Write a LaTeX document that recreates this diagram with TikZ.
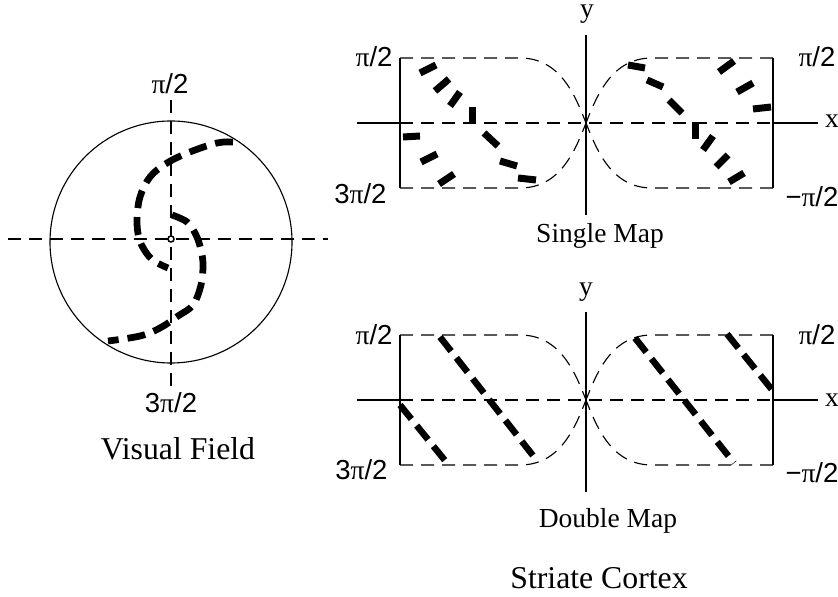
\documentclass[tikz,border=0pt]{standalone}
\usepackage{fontspec}
\setmainfont{Liberation Serif}
\setsansfont{Liberation Sans}
\newcommand\mypi{{\rmfamily π}}
\begin{document}
\begin{tikzpicture}[x=0.4pt,y=-0.4pt,
  thinl/.style={line width=0.45pt},
  tdash/.style={line width=0.45pt, dash pattern=on 5.2pt off 3.2pt},
  spiral/.style={line width=2.7pt, dash pattern=on 7.2pt off 3.6pt},
  tdl/.style={line width=2.6pt, dash pattern=on 7.2pt off 3.4pt},
  seg/.style={line width=2.8pt},
  lab/.style={font=\sffamily\fontsize{11}{13}\selectfont, inner sep=0pt},
  ttl/.style={font=\fontsize{12.7}{15}\selectfont, inner sep=0pt, anchor=base},
  sub/.style={font=\fontsize{11}{13}\selectfont, inner sep=0pt, anchor=base}]
\useasboundingbox (0,0) rectangle (838,597);
% ---------- Visual field ----------
\draw[thinl] (171,242) circle[radius=121];
\draw[tdash] (8,239) -- (328,239);
\draw[tdash] (171,100) -- (171,387);
\draw[spiral] plot[smooth, tension=0.6] coordinates {(233,142) (217,143) (190,152) (167,163) (150,177) (140,197) (137,220) (139,238) (145,251) (154,261) (168,268)};
\draw[spiral] plot[smooth, tension=0.6] coordinates {(172,215) (187,222) (196,235) (201,250) (203,265) (201,285) (193,305) (178,316) (160,328) (140,336) (108,341)};
\draw[line width=0.6pt, fill=white] (171,239) circle[radius=3];
\node[lab] (vtop) at (170,84) {\mypi/2};
\node[lab] (vbot) at (171,403) {3\mypi/2};
\node[ttl] (vf) at (178,460) {Visual Field};
% ---------- map frames ----------
\foreach \s in {0,277}{
 \begin{scope}[shift={(0,\s)}]
  \draw[thinl] (586,35) -- (586,215);
  \draw[thinl] (357,123) -- (400,123) (773,123) -- (818,123);
  \draw[tdash] (400,123) -- (773,123);
  \draw[thinl] (400,58) -- (400,188) (773,58) -- (773,188);
  \draw[tdash] (400,58) -- (520,58) .. controls (560,58) and (575,95) .. (586,123);
  \draw[tdash] (400,188) -- (520,188) .. controls (560,188) and (575,151) .. (586,123);
  \draw[tdash] (773,58) -- (652,58) .. controls (612,58) and (597,95) .. (586,123);
  \draw[tdash] (773,188) -- (652,188) .. controls (612,188) and (597,151) .. (586,123);
 \end{scope}
}
% ---------- single map ----------
\foreach \xa/\ya/\xb/\yb in {420/73/436/65, 435/91/449/79, 450/106/460/92, 472/107/472/124,
  484/133/498/146, 500/161/517/166, 518/178/536/180, 403/137/420/136,
  421/162/437/154, 439/184/454/174,
  628/65/645/68, 647/80/663/87, 669/100/682/113, 695/122/695/139,
  703/150/713/136, 716/167/728/155, 729/182/744/173, 719/72/734/61,
  737/92/753/83, 753/109/771/107}
  \draw[seg] (\xa,\ya) -- (\xb,\yb);
\node[lab, anchor=east] (sl1) at (393,57) {\mypi/2};
\node[lab, anchor=east] (sl2) at (387,194) {3\mypi/2};
\node[lab, anchor=west] (sr1) at (798,57) {\mypi/2};
\node[lab, anchor=west] (sr2) at (785,197) {−\mypi/2};
\node[sub] (sy) at (587,18) {y};
\node[sub] (sx) at (832,128) {x};
\node[sub] (sm) at (600,243) {Single Map};
% ---------- double map ----------
\draw[tdl] (440,337) -- (538,462);
\draw[tdl] (400,405) -- (447,463);
\draw[tdl] (635,338) -- (734,463);
\draw[tdl] (727,334) -- (773,391);
\node[lab, anchor=east] (dl1) at (393,335) {\mypi/2};
\node[lab, anchor=east] (dl2) at (388,470) {3\mypi/2};
\node[lab, anchor=west] (dr1) at (798,335) {\mypi/2};
\node[lab, anchor=west] (dr2) at (785,473) {−\mypi/2};
\node[sub] (dy) at (586,296) {y};
\node[sub] (dx) at (832,407) {x};
\node[sub] (dm) at (608,528) {Double Map};
\node[ttl] (sc) at (599,588) {Striate Cortex};
\end{tikzpicture}
\end{document}
